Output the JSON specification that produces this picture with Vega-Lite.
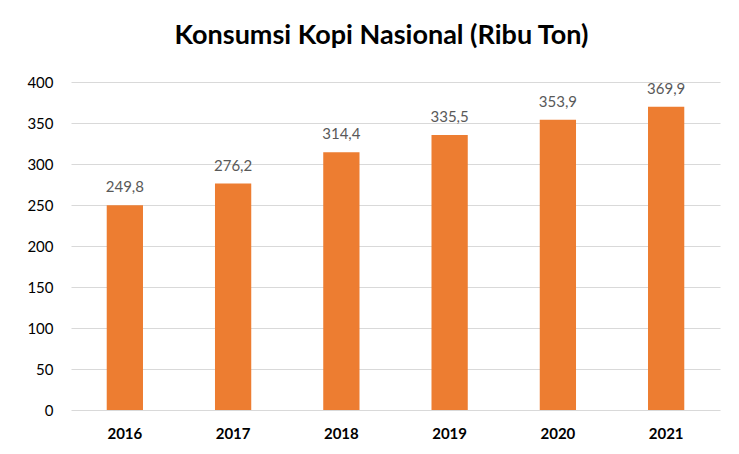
{
  "$schema": "https://vega.github.io/schema/vega-lite/v6.json",
  "autosize": "none",
  "width": 649,
  "height": 328,
  "padding": {"left": 71, "top": 82, "right": 19, "bottom": 44},
  "background": "white",
  "config": {
    "view": {"stroke": null},
    "locale": {"number": {"decimal": ",", "thousands": ".", "grouping": [3], "currency": ["", ""]}},
    "font": "Lato"
  },
  "title": {
    "text": "Konsumsi Kopi Nasional (Ribu Ton)",
    "font": "Lato",
    "fontSize": 27,
    "fontWeight": "bold",
    "color": "#000000",
    "anchor": "middle",
    "dx": -14,
    "offset": 25
  },
  "data": {
    "values": [
      {"year": "2016", "value": 249.8},
      {"year": "2017", "value": 276.2},
      {"year": "2018", "value": 314.4},
      {"year": "2019", "value": 335.5},
      {"year": "2020", "value": 353.9},
      {"year": "2021", "value": 369.9}
    ]
  },
  "encoding": {
    "x": {
      "field": "year", "type": "nominal",
      "scale": {"paddingInner": 0.665, "paddingOuter": 0.33},
      "axis": {"title": null, "labelAngle": 0, "domain": false, "ticks": false,
               "labelFont": "Lato", "labelFontSize": 15, "labelFontWeight": "bold",
               "labelColor": "#000000", "labelPadding": 16}
    },
    "y": {
      "field": "value", "type": "quantitative",
      "scale": {"domain": [0, 400]},
      "axis": {"title": null, "values": [0, 50, 100, 150, 200, 250, 300, 350, 400], "domain": false, "ticks": false,
               "gridColor": "#d9d9d9", "gridWidth": 1,
               "labelFont": "Lato", "labelFontSize": 15, "labelColor": "#000000", "labelPadding": 18}
    }
  },
  "layer": [
    {"mark": {"type": "bar", "color": "#ED7D31"}},
    {
      "mark": {"type": "text", "dy": -18, "fontSize": 15, "color": "#595959", "font": "Lato"},
      "encoding": {"text": {"field": "value", "type": "quantitative", "format": ".1f"}}
    }
  ]
}
